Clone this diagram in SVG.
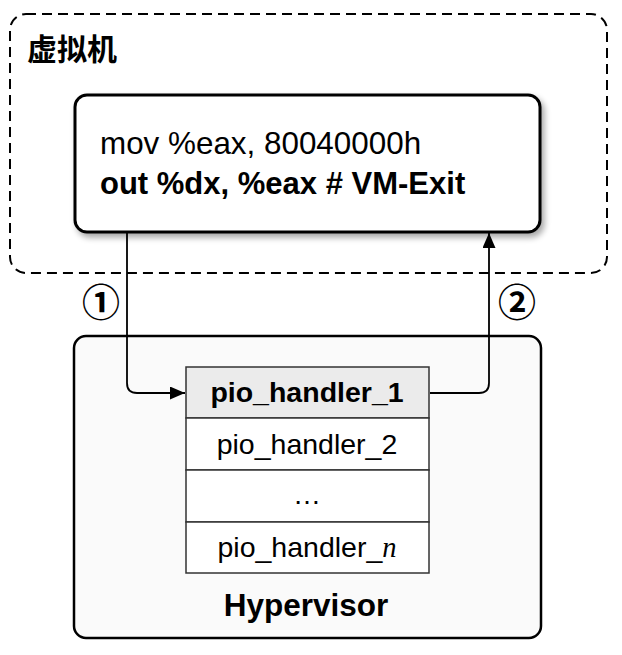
<svg xmlns="http://www.w3.org/2000/svg" width="622" height="655" viewBox="0 0 622 655">
<style>
text{font-family:"Liberation Sans",Arial,"Noto Sans CJK SC",sans-serif;fill:#000}
.b{font-weight:bold}
.c{text-anchor:middle}
.cjk{font-family:"Noto Sans CJK SC",sans-serif}
.ln{fill:none;stroke:#000;stroke-width:1.8}
.cell{stroke:#333;stroke-width:1.5}
</style>
<defs>
<marker id="ah" markerWidth="15" markerHeight="13" refX="15" refY="6.5" orient="auto" markerUnits="userSpaceOnUse">
<path d="M0,0 L15,6.5 L0,13 Z" fill="#000"/>
</marker>
<filter id="sh" x="-10%" y="-10%" width="125%" height="130%">
<feGaussianBlur in="SourceAlpha" stdDeviation="3"/>
<feOffset dx="3" dy="4"/>
<feComponentTransfer><feFuncA type="linear" slope="0.35"/></feComponentTransfer>
<feMerge><feMergeNode/><feMergeNode in="SourceGraphic"/></feMerge>
</filter>
</defs>
<rect width="622" height="655" fill="#fff"/>
<g id="vm">
<rect x="10" y="14" width="597" height="259" rx="16" fill="none" stroke="#000" stroke-width="2" stroke-dasharray="10,6"/>
<text x="27" y="60" class="b cjk" font-size="30">虚拟机</text>
</g>
<g id="code">
<rect x="75" y="95" width="465" height="137" rx="12" fill="#fff" stroke="#000" stroke-width="3" filter="url(#sh)"/>
<text x="100" y="154" font-size="31.4">mov %eax, 80040000h</text>
<text x="100" y="194" font-size="31" class="b">out %dx, %eax # VM-Exit</text>
</g>
<g id="hypervisor">
<rect x="74" y="336" width="467" height="302" rx="12" fill="#fafafa" stroke="#000" stroke-width="2.5"/>
<text x="306" y="616" class="b c" font-size="31.5">Hypervisor</text>
</g>
<g id="table">
<rect x="186" y="367" width="243" height="51" fill="#ebebeb" class="cell"/>
<rect x="186" y="418" width="243" height="52" fill="#fff" class="cell"/>
<rect x="186" y="470" width="243" height="52" fill="#fff" class="cell"/>
<rect x="186" y="522" width="243" height="51" fill="#fff" class="cell"/>
<text x="307" y="402" class="b c" font-size="28.5">pio_handler_1</text>
<text x="307" y="454" class="c" font-size="28.5">pio_handler_2</text>
<text x="307" y="504" class="c" font-size="28">…</text>
<text x="307" y="557" class="c" font-size="28.5">pio_handler_<tspan font-family="Liberation Serif,serif" font-style="italic">n</tspan></text>
</g>
<g id="connectors">
<path class="ln" d="M127,232 V383 Q127,393 137,393 H185" marker-end="url(#ah)"/>
<path class="ln" d="M430,393 H479 Q489,393 489,383 V233" marker-end="url(#ah)"/>
</g>
<g id="labels">
<text x="101" y="316" class="c cjk b" font-size="38">①</text>
<text x="517" y="316" class="c cjk b" font-size="38">②</text>
</g>
</svg>
